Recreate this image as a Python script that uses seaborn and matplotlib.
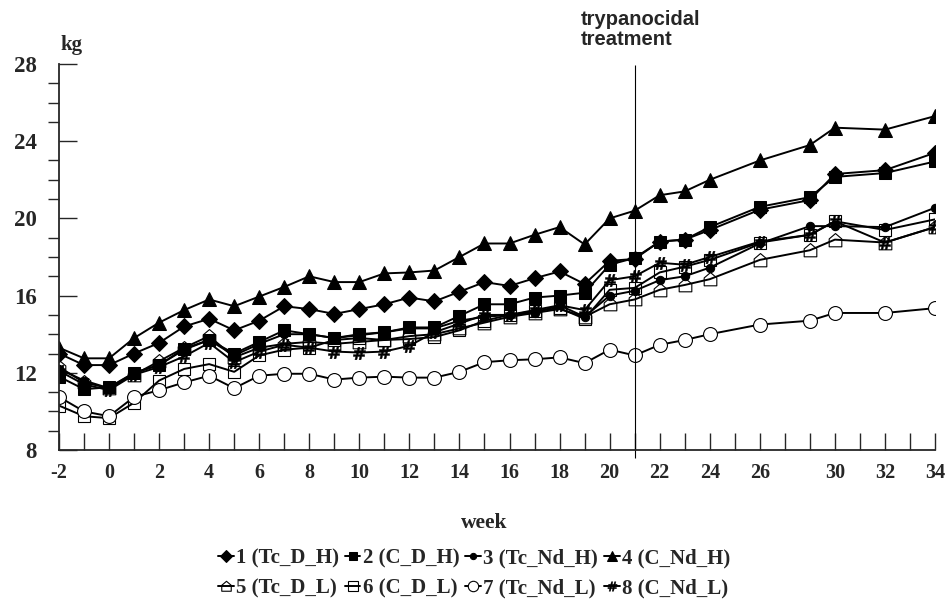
import matplotlib
matplotlib.use("Agg")
import matplotlib.pyplot as plt
from matplotlib.path import Path
from matplotlib.ticker import FixedLocator, MultipleLocator
import seaborn as sns
import pandas as pd

# ---------------- data ----------------
# category axis of the original chart (week 29 is not on the axis)
axis_weeks = list(range(-2, 29)) + list(range(30, 35))
labelled_weeks = [-2, 0, 2, 4, 6, 8, 10, 12, 14, 16, 18, 20, 22, 24, 26, 30, 32, 34]

weeks = list(range(-2, 25)) + [26, 28, 30, 32, 34]

s1 = [13.0, 12.4, 12.4, 13.0, 13.55, 14.4, 14.8, 14.2, 14.7, 15.45, 15.3, 15.05, 15.3, 15.55, 15.9, 15.7,
      16.2, 16.7, 16.5, 16.9, 17.25, 16.6, 17.8, 17.9, 18.8, 18.9, 19.4, 20.45, 20.95, 22.3, 22.5, 23.4]
s2 = [11.8, 11.15, 11.25, 12.0, 12.4, 13.25, 13.7, 13.0, 13.6, 14.2, 14.0, 13.8, 14.0, 14.1, 14.35, 14.35,
      14.95, 15.55, 15.55, 15.9, 16.0, 16.15, 17.6, 17.95, 18.8, 18.9, 19.55, 20.6, 21.1, 22.15, 22.35, 22.95]
s3 = [12.2, 11.6, 11.2, 12.0, 12.4, 13.2, 13.7, 12.9, 13.5, 14.0, 14.0, 13.8, 13.95, 14.1, 14.3, 14.3,
      14.7, 14.9, 15.0, 15.1, 15.5, 14.9, 16.0, 16.25, 16.8, 17.0, 17.45, 18.7, 19.6, 19.6, 19.55, 20.55]
s4 = [13.3, 12.75, 12.75, 13.8, 14.6, 15.25, 15.8, 15.45, 15.95, 16.45, 17.0, 16.7, 16.7, 17.15, 17.2, 17.3,
      18.0, 18.7, 18.7, 19.15, 19.55, 18.65, 20.0, 20.4, 21.2, 21.4, 22.0, 23.0, 23.8, 24.7, 24.6, 25.3]
s5 = [12.3, 11.5, 11.2, 11.9, 12.6, 13.3, 13.9, 12.8, 13.3, 13.5, 13.6, 13.5, 13.6, 13.7, 13.9, 14.0,
      14.3, 14.6, 14.9, 15.1, 15.3, 14.9, 15.55, 15.8, 16.3, 16.55, 16.85, 17.85, 18.35, 18.9, 18.75, 19.55]
s6 = [10.3, 9.75, 9.65, 10.45, 11.6, 12.2, 12.45, 12.05, 12.9, 13.2, 13.3, 13.7, 13.8, 13.7, 13.75, 13.85,
      14.2, 14.7, 15.0, 15.2, 15.35, 14.8, 16.3, 16.4, 17.2, 17.5, 17.85, 18.75, 19.15, 19.85, 19.4, 19.95]
s7 = [10.75, 10.0, 9.75, 10.75, 11.1, 11.5, 11.85, 11.2, 11.85, 11.95, 11.95, 11.65, 11.75, 11.8, 11.75, 11.75,
      12.05, 12.55, 12.65, 12.7, 12.8, 12.5, 13.2, 12.9, 13.45, 13.7, 14.0, 14.5, 14.7, 15.1, 15.1, 15.35]
s8 = [12.1, 11.4, 11.1, 11.9, 12.3, 12.85, 13.55, 12.55, 13.1, 13.45, 13.3, 13.1, 13.05, 13.1, 13.4, 14.1,
      14.55, 15.0, 15.0, 15.25, 15.5, 15.25, 16.8, 17.0, 17.7, 17.6, 18.0, 18.8, 19.15, 19.85, 18.75, 19.55]

series_labels = ["1 (Tc_D_H)", "2 (C_D_H)", "3 (Tc_Nd_H)", "4 (C_Nd_H)",
                 "5 (Tc_D_L)", "6 (C_D_L)", "7 (Tc_Nd_L)", "8 (C_Nd_L)"]
series_values = [s1, s2, s3, s4, s5, s6, s7, s8]
treatment_week = 21

# ---------------- style ----------------
sns.set_style("ticks")
plt.rcParams["font.family"] = ["Liberation Serif", "DejaVu Serif"]
plt.rcParams["font.weight"] = "bold"

house = Path([(-1, -1), (1, -1), (1, 0.25), (0, 1.1), (-1, 0.25), (-1, -1)],
             [Path.MOVETO, Path.LINETO, Path.LINETO, Path.LINETO, Path.LINETO, Path.CLOSEPOLY])

marker_specs = [
    dict(marker="D", markersize=8, markerfacecolor="black"),
    dict(marker="s", markersize=8.5, markerfacecolor="black"),
    dict(marker="o", markersize=6, markerfacecolor="black"),
    dict(marker="^", markersize=9.5, markerfacecolor="black"),
    dict(marker=house, markersize=10, markerfacecolor="none", markeredgewidth=0.8),
    dict(marker="s", markersize=9, markerfacecolor="none", markeredgewidth=0.8),
    dict(marker="o", markersize=10, markerfacecolor="white", markeredgewidth=0.8),
    dict(marker="$\\#$", markersize=9, markerfacecolor="black", markeredgewidth=0.3),
]

fig = plt.figure(figsize=(9.47, 6.07), dpi=100)
ax = fig.add_axes([59 / 947, 1 - 450 / 607, 876 / 947, 386 / 607])

pos = [axis_weeks.index(w) for w in weeks]
handles = []
for lab, vals, spec in zip(series_labels, series_values, marker_specs):
    df = pd.DataFrame({"pos": pos, "kg": vals})
    sns.lineplot(data=df, x="pos", y="kg", ax=ax, color="black", linewidth=1.4,
                 markeredgecolor="black", label=lab, **spec)
    handles.append(ax.get_lines()[-1])

if ax.get_legend() is not None:
    ax.get_legend().remove()

# treatment line
tx = axis_weeks.index(treatment_week)
ax.vlines(tx, 7.58, 27.95, colors="black", linewidth=0.8, clip_on=False)

# axes
ax.set_xlim(0, len(axis_weeks) - 1)
ax.set_ylim(8, 28)
sns.despine(ax=ax)
ax.spines["left"].set_linewidth(1.3)
ax.spines["bottom"].set_linewidth(1.3)

ax.xaxis.set_major_locator(FixedLocator(range(len(axis_weeks))))
ax.set_xticklabels([str(w) if w in labelled_weeks else "" for w in axis_weeks])
ax.tick_params(axis="x", which="major", direction="in", length=12, width=1.0,
               pad=9, labelsize=14.5)
ax.yaxis.set_major_locator(MultipleLocator(4))
ax.yaxis.set_minor_locator(MultipleLocator(1))
ax.tick_params(axis="y", which="major", direction="in", length=13, width=1.0,
               pad=16, labelsize=16.5)
ax.tick_params(axis="y", which="minor", direction="out", length=8, width=1.0)
for t in ax.get_xticklabels() + ax.get_yticklabels():
    t.set_fontweight("bold")
ax.set_xlabel("")
ax.set_ylabel("")

fig.text(60 / 947, 1 - 50 / 607, "kg", ha="left", va="baseline", fontsize=15, fontweight="bold")
fig.text(484 / 947, 1 - 528 / 607, "week", ha="center", va="baseline", fontsize=15.5, fontweight="bold")
fig.text(581 / 947, 1 - 10 / 607, "trypanocidal\ntreatment", ha="left", va="top",
         fontsize=14.5, fontweight="bold", family=["Liberation Sans", "DejaVu Sans"],
         linespacing=1.05)

order = [0, 4, 1, 5, 2, 6, 3, 7]
leg = fig.legend([handles[i] for i in order], [series_labels[i] for i in order],
                 ncol=4, loc="upper center", bbox_to_anchor=(474 / 947, 1 - 530 / 607),
                 frameon=False, handlelength=0.75, handletextpad=0.1, columnspacing=0.3,
                 labelspacing=0.45, prop=dict(family="Liberation Serif", weight="bold", size=15),
                 markerscale=0.75)

fig.savefig("out.png", dpi=100)
